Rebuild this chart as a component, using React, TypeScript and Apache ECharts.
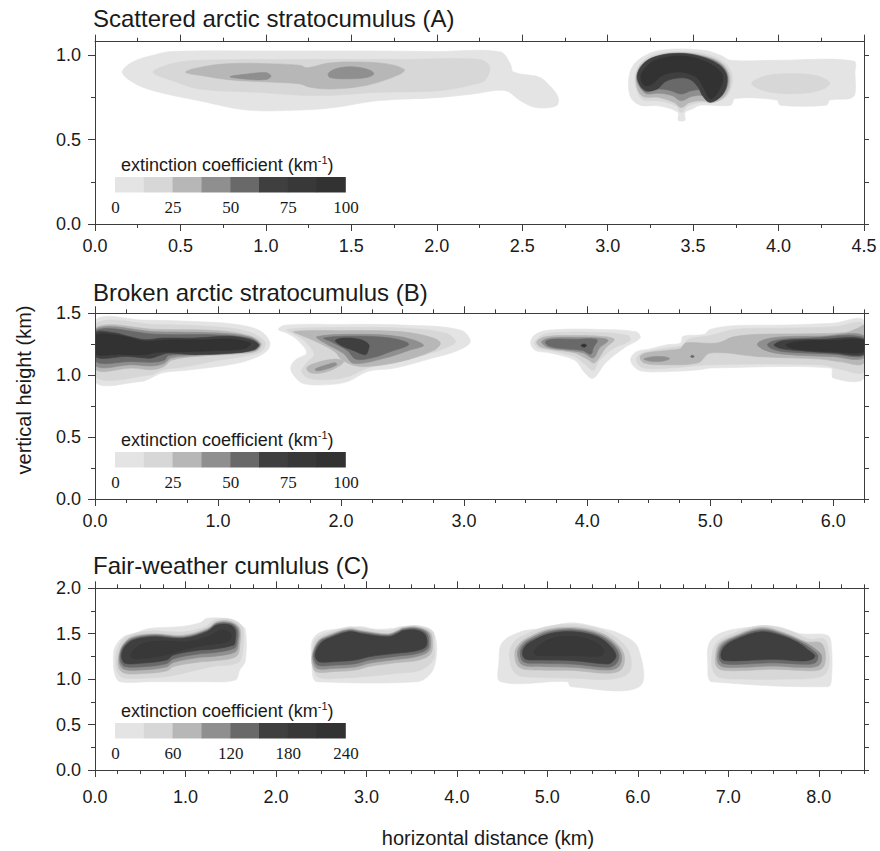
import React, { useEffect, useRef } from 'react';
import * as echarts from 'echarts';

type Pt = [number, number];
type Contour = { level: number; pts: Pt[] };

// grey shades of the 8 contour classes (lightest -> darkest)
const levelColors = ['#e4e4e4', '#d7d7d7', '#b7b7b7', '#8f8f8f', '#696969', '#3f3f3f', '#383838', '#323232'];

const legendTicksAB = [0, 25, 50, 75, 100];
const legendTicksC = [0, 60, 120, 180, 240];

const xLabelsA = [0, 0.5, 1, 1.5, 2, 2.5, 3, 3.5, 4, 4.5];
const xLabelsB = [0, 1, 2, 3, 4, 5, 6];
const xLabelsC = [0, 1, 2, 3, 4, 5, 6, 7, 8];
const yLabelsA = [0, 0.5, 1];
const yLabelsB = [0, 0.5, 1, 1.5];
const yLabelsC = [0, 0.5, 1, 1.5, 2];

const xMax = [4.5, 6.25, 8.5];
const yMax = [1.08, 1.5, 2.0];

const titles = ['Scattered arctic stratocumulus (A)', 'Broken arctic stratocumulus (B)', 'Fair-weather cumlulus (C)'];

// ---------------- Panel A : scattered arctic stratocumulus ----------------
const contoursA: Contour[] = [
  { level: 1, pts: [[0.16, 0.90], [0.22, 0.96], [0.34, 1.0], [0.45, 1.022], [1.0, 1.025], [1.6, 1.025], [2.0, 1.022], [2.37, 1.02], [2.43, 0.95], [2.45, 0.90], [2.60, 0.87], [2.66, 0.82], [2.71, 0.75], [2.70, 0.70], [2.58, 0.69], [2.49, 0.73], [2.40, 0.79], [2.21, 0.77], [2.02, 0.75], [1.65, 0.73], [1.40, 0.69], [1.20, 0.675], [0.89, 0.675], [0.61, 0.73], [0.34, 0.79], [0.22, 0.84]] },
  { level: 1, pts: [[3.131, 0.90], [3.19, 0.98], [3.31, 1.03], [3.56, 1.03], [3.66, 1.0], [3.72, 0.97], [4.0, 0.97], [4.44, 0.965], [4.447, 0.89], [4.447, 0.77], [4.42, 0.744], [4.30, 0.734], [4.28, 0.704], [4.01, 0.704], [3.99, 0.734], [3.745, 0.744], [3.72, 0.704], [3.54, 0.704], [3.50, 0.684], [3.452, 0.66], [3.452, 0.615], [3.413, 0.615], [3.413, 0.66], [3.30, 0.70], [3.19, 0.704], [3.131, 0.76]] },
  { level: 2, pts: [[0.34, 0.90], [0.45, 0.95], [0.61, 0.97], [1.2, 0.975], [1.8, 0.975], [2.25, 0.975], [2.31, 0.93], [2.28, 0.85], [2.21, 0.826], [2.02, 0.79], [1.65, 0.78], [1.40, 0.763], [1.2, 0.763], [0.95, 0.78], [0.61, 0.80], [0.45, 0.85]] },
  { level: 2, pts: [[3.16, 0.86], [3.20, 0.96], [3.30, 1.01], [3.45, 1.02], [3.58, 1.005], [3.69, 0.95], [3.73, 0.87], [3.70, 0.76], [3.62, 0.72], [3.54, 0.72], [3.47, 0.70], [3.43, 0.66], [3.40, 0.70], [3.30, 0.73], [3.20, 0.74]] },
  { level: 2, pts: [[3.843, 0.833], [3.90, 0.87], [4.0, 0.888], [4.15, 0.888], [4.25, 0.87], [4.30, 0.833], [4.25, 0.795], [4.15, 0.775], [4.0, 0.775], [3.90, 0.795]] },
  { level: 3, pts: [[0.53, 0.90], [0.65, 0.935], [0.81, 0.951], [1.0, 0.95], [1.2, 0.94], [1.24, 0.925], [1.36, 0.952], [1.49, 0.96], [1.70, 0.95], [1.81, 0.915], [1.78, 0.885], [1.59, 0.822], [1.39, 0.80], [1.26, 0.81], [1.20, 0.83], [1.0, 0.842], [0.81, 0.852], [0.65, 0.875]] },
  { level: 3, pts: [[3.165, 0.86], [3.20, 0.95], [3.30, 1.0], [3.43, 1.015], [3.57, 0.995], [3.67, 0.95], [3.715, 0.87], [3.695, 0.77], [3.62, 0.72], [3.55, 0.73], [3.48, 0.72], [3.43, 0.69], [3.39, 0.72], [3.30, 0.75], [3.20, 0.76]] },
  { level: 4, pts: [[0.79, 0.872], [0.89, 0.888], [1.0, 0.897], [1.03, 0.876], [1.0, 0.856], [0.89, 0.858]] },
  { level: 4, pts: [[1.365, 0.892], [1.414, 0.921], [1.511, 0.931], [1.609, 0.911], [1.632, 0.888], [1.59, 0.868], [1.473, 0.86], [1.375, 0.868]] },
  { level: 4, pts: [[3.17, 0.86], [3.21, 0.95], [3.30, 0.997], [3.43, 1.012], [3.56, 0.992], [3.665, 0.945], [3.705, 0.87], [3.685, 0.78], [3.61, 0.725], [3.56, 0.76], [3.49, 0.755], [3.43, 0.73], [3.38, 0.76], [3.30, 0.775], [3.22, 0.775]] },
  { level: 5, pts: [[3.173, 0.87], [3.215, 0.95], [3.30, 0.995], [3.43, 1.01], [3.555, 0.99], [3.66, 0.94], [3.70, 0.87], [3.68, 0.78], [3.60, 0.722], [3.56, 0.79], [3.49, 0.79], [3.43, 0.77], [3.37, 0.79], [3.30, 0.80], [3.22, 0.785]] },
  { level: 6, pts: [[3.175, 0.892], [3.22, 0.96], [3.30, 0.997], [3.423, 1.01], [3.55, 0.99], [3.655, 0.94], [3.698, 0.872], [3.675, 0.77], [3.599, 0.722], [3.555, 0.76], [3.53, 0.81], [3.485, 0.855], [3.423, 0.866], [3.34, 0.845], [3.29, 0.80], [3.225, 0.79], [3.185, 0.83]] },
  { level: 8, pts: [[3.195, 0.88], [3.245, 0.95], [3.33, 0.985], [3.43, 0.995], [3.54, 0.975], [3.63, 0.93], [3.675, 0.87], [3.645, 0.78], [3.60, 0.742], [3.565, 0.80], [3.525, 0.865], [3.46, 0.895], [3.40, 0.90], [3.32, 0.88], [3.26, 0.83], [3.215, 0.82]] },
];

// ---------------- Panel B : broken arctic stratocumulus ----------------
const contoursB: Contour[] = [
  // left cloud
  { level: 1, pts: [[0, 1.44], [0.4, 1.445], [0.9, 1.43], [1.15, 1.41], [1.34, 1.36], [1.42, 1.27], [1.40, 1.20], [1.30, 1.14], [1.125, 1.09], [0.746, 1.04], [0.55, 1.02], [0.44, 0.97], [0.37, 0.948], [0, 0.948]] },
  { level: 2, pts: [[0, 1.41], [0.5, 1.41], [1.0, 1.39], [1.25, 1.35], [1.38, 1.27], [1.36, 1.20], [1.25, 1.16], [1.0, 1.12], [0.75, 1.07], [0.56, 1.045], [0.44, 1.0], [0, 0.99]] },
  { level: 3, pts: [[0, 1.38], [0.5, 1.37], [1.0, 1.36], [1.25, 1.32], [1.35, 1.26], [1.32, 1.20], [1.2, 1.175], [0.8, 1.15], [0.62, 1.12], [0.56, 1.07], [0.46, 1.045], [0.30, 1.058], [0, 1.05]] },
  { level: 4, pts: [[0, 1.37], [0.5, 1.35], [1.0, 1.34], [1.25, 1.31], [1.34, 1.25], [1.30, 1.20], [1.1, 1.18], [0.8, 1.16], [0.62, 1.14], [0.56, 1.095], [0.46, 1.075], [0.30, 1.085], [0, 1.08]] },
  { level: 5, pts: [[0, 1.36], [0.5, 1.33], [1.0, 1.325], [1.25, 1.30], [1.335, 1.25], [1.29, 1.205], [1.1, 1.185], [0.8, 1.17], [0.6, 1.16], [0.56, 1.12], [0.46, 1.105], [0.30, 1.11], [0, 1.115]] },
  { level: 6, pts: [[0, 1.341], [0.163, 1.341], [0.271, 1.314], [0.407, 1.287], [0.55, 1.30], [0.814, 1.30], [1.085, 1.314], [1.25, 1.29], [1.329, 1.246], [1.29, 1.206], [1.139, 1.179], [0.814, 1.166], [0.597, 1.179], [0.542, 1.166], [0.461, 1.139], [0.407, 1.139], [0.271, 1.152], [0, 1.152]] },
  { level: 8, pts: [[0, 1.32], [0.2, 1.32], [0.4, 1.275], [0.6, 1.285], [0.9, 1.285], [1.1, 1.29], [1.26, 1.26], [1.22, 1.215], [1.0, 1.20], [0.7, 1.19], [0.5, 1.185], [0.4, 1.165], [0.2, 1.17], [0, 1.175]] },
  // middle cloud (x ~ 1.5 - 3.0)
  { level: 1, pts: [[1.49, 1.37], [1.55, 1.405], [2.0, 1.41], [2.5, 1.405], [2.97, 1.365], [3.05, 1.27], [2.95, 1.20], [2.75, 1.14], [2.44, 1.058], [2.22, 1.031], [2.06, 0.951], [1.90, 0.924], [1.70, 0.93], [1.63, 0.98], [1.59, 1.058], [1.63, 1.125], [1.72, 1.18], [1.65, 1.28], [1.56, 1.34]] },
  { level: 2, pts: [[1.56, 1.37], [2.0, 1.385], [2.5, 1.38], [2.85, 1.34], [2.93, 1.27], [2.85, 1.22], [2.7, 1.17], [2.44, 1.10], [2.22, 1.06], [2.06, 0.99], [1.90, 0.965], [1.74, 0.975], [1.68, 1.03], [1.72, 1.10], [1.78, 1.17], [1.70, 1.28], [1.62, 1.33]] },
  { level: 3, pts: [[1.614, 1.352], [2.0, 1.36], [2.5, 1.35], [2.75, 1.30], [2.807, 1.257], [2.75, 1.20], [2.48, 1.11], [2.21, 1.07], [2.10, 1.08], [2.0, 1.13], [1.95, 1.19], [1.80, 1.27], [1.68, 1.32]] },
  { level: 3, pts: [[1.72, 1.06], [1.80, 1.10], [1.95, 1.13], [2.02, 1.11], [1.96, 1.06], [1.85, 1.02], [1.75, 1.02]] },
  { level: 4, pts: [[1.79, 1.05], [1.87, 1.08], [1.95, 1.10], [1.965, 1.085], [1.88, 1.05], [1.80, 1.035]] },
  { level: 4, pts: [[1.803, 1.311], [2.1, 1.33], [2.48, 1.311], [2.671, 1.244], [2.55, 1.20], [2.346, 1.136], [2.102, 1.096], [2.02, 1.176], [1.85, 1.27]] },
  { level: 5, pts: [[1.86, 1.30], [2.1, 1.315], [2.40, 1.30], [2.55, 1.25], [2.40, 1.19], [2.25, 1.14], [2.12, 1.13], [2.05, 1.20], [1.92, 1.27]] },
  { level: 6, pts: [[1.953, 1.28], [2.02, 1.30], [2.15, 1.29], [2.224, 1.25], [2.22, 1.20], [2.197, 1.166], [2.10, 1.20], [2.0, 1.24]] },
  // triangular cloud near x = 4
  { level: 1, pts: [[3.54, 1.26], [3.58, 1.33], [3.70, 1.365], [4.1, 1.37], [4.40, 1.35], [4.43, 1.30], [4.30, 1.22], [4.15, 1.10], [4.05, 0.975], [3.98, 1.02], [3.90, 1.12], [3.70, 1.18], [3.58, 1.20]] },
  { level: 2, pts: [[3.57, 1.26], [3.63, 1.32], [3.75, 1.345], [4.1, 1.345], [4.33, 1.32], [4.35, 1.28], [4.22, 1.22], [4.10, 1.12], [4.05, 1.04], [3.98, 1.09], [3.90, 1.15], [3.70, 1.20], [3.60, 1.22]] },
  { level: 3, pts: [[3.59, 1.27], [3.66, 1.31], [3.85, 1.32], [4.10, 1.315], [4.22, 1.29], [4.15, 1.22], [4.06, 1.10], [4.0, 1.13], [3.90, 1.18], [3.70, 1.21], [3.62, 1.23]] },
  { level: 4, pts: [[3.63, 1.27], [3.70, 1.30], [3.90, 1.305], [4.10, 1.30], [4.17, 1.28], [4.10, 1.22], [4.05, 1.14], [3.97, 1.18], [3.85, 1.20], [3.68, 1.225]] },
  { level: 5, pts: [[3.66, 1.27], [3.72, 1.29], [3.90, 1.29], [4.08, 1.285], [4.05, 1.22], [4.03, 1.17], [3.96, 1.20], [3.80, 1.215], [3.69, 1.235]] },
  { level: 8, pts: [[3.95, 1.24], [3.975, 1.252], [3.995, 1.24], [3.975, 1.226]] },
  // right group (x ~ 4.35 - 6.25)
  { level: 1, pts: [[4.353, 1.13], [4.40, 1.19], [4.50, 1.21], [4.65, 1.246], [4.76, 1.26], [4.78, 1.314], [4.95, 1.33], [5.0, 1.37], [5.19, 1.40], [5.6, 1.405], [6.0, 1.42], [6.25, 1.44], [6.25, 0.977], [6.0, 0.977], [5.98, 1.058], [5.0, 1.058], [4.92, 1.045], [4.70, 1.031], [4.45, 1.031], [4.38, 1.07]] },
  { level: 2, pts: [[4.40, 1.13], [4.45, 1.18], [4.65, 1.22], [4.78, 1.24], [4.82, 1.29], [5.0, 1.32], [5.2, 1.37], [5.6, 1.38], [6.0, 1.39], [6.25, 1.41], [6.25, 1.03], [6.05, 1.05], [5.9, 1.085], [5.0, 1.085], [4.7, 1.06], [4.45, 1.06]] },
  { level: 3, pts: [[4.43, 1.15], [4.48, 1.18], [4.65, 1.20], [4.76, 1.215], [4.80, 1.26], [5.058, 1.26], [5.19, 1.31], [5.40, 1.33], [5.8, 1.335], [6.1, 1.345], [6.2, 1.38], [6.25, 1.40], [6.25, 1.10], [6.05, 1.11], [5.9, 1.13], [5.4, 1.15], [5.0, 1.18], [4.9, 1.10], [4.6, 1.085], [4.46, 1.10]] },
  { level: 4, pts: [[4.46, 1.13], [4.52, 1.148], [4.62, 1.15], [4.67, 1.135], [4.62, 1.115], [4.52, 1.112]] },
  { level: 4, pts: [[5.383, 1.25], [5.45, 1.29], [5.6, 1.31], [5.9, 1.315], [6.25, 1.32], [6.25, 1.14], [6.0, 1.15], [5.6, 1.17], [5.45, 1.20]] },
  { level: 5, pts: [[5.466, 1.25], [5.55, 1.285], [5.8, 1.30], [6.25, 1.305], [6.25, 1.16], [6.0, 1.17], [5.6, 1.19], [5.5, 1.215]] },
  { level: 5, pts: [[4.84, 1.152], [4.855, 1.162], [4.87, 1.152], [4.855, 1.142]] },
  { level: 6, pts: [[5.52, 1.245], [5.6, 1.28], [5.9, 1.29], [6.25, 1.29], [6.25, 1.17], [6.0, 1.18], [5.7, 1.20], [5.56, 1.22]] },
  { level: 8, pts: [[5.62, 1.25], [5.75, 1.275], [6.0, 1.28], [6.25, 1.28], [6.25, 1.19], [6.0, 1.19], [5.75, 1.205], [5.64, 1.225]] },
];

// ---------------- Panel C : fair-weather cumulus ----------------
const contoursC: Contour[] = [
  // cloud 1
  { level: 1, pts: [[0.203, 1.21], [0.22, 1.35], [0.314, 1.467], [0.424, 1.50], [0.609, 1.559], [0.941, 1.578], [1.163, 1.62], [1.237, 1.67], [1.495, 1.66], [1.60, 1.60], [1.661, 1.55], [1.661, 1.20], [1.60, 1.10], [1.55, 0.99], [1.2, 0.972], [0.6, 0.972], [0.277, 0.972], [0.22, 1.05]] },
  { level: 2, pts: [[0.23, 1.24], [0.27, 1.38], [0.37, 1.48], [0.62, 1.53], [0.98, 1.52], [1.22, 1.58], [1.33, 1.655], [1.52, 1.655], [1.63, 1.57], [1.63, 1.30], [1.58, 1.18], [1.30, 1.14], [1.0, 1.07], [0.8, 1.03], [0.5, 1.01], [0.30, 1.02], [0.24, 1.10]] },
  { level: 3, pts: [[0.26, 1.25], [0.30, 1.37], [0.40, 1.465], [0.646, 1.50], [0.98, 1.485], [1.24, 1.56], [1.35, 1.635], [1.50, 1.635], [1.60, 1.56], [1.60, 1.37], [1.56, 1.25], [1.30, 1.20], [1.16, 1.19], [0.87, 1.14], [0.79, 1.09], [0.50, 1.06], [0.33, 1.065], [0.265, 1.12]] },
  { level: 4, pts: [[0.27, 1.26], [0.31, 1.37], [0.41, 1.455], [0.646, 1.49], [0.98, 1.47], [1.24, 1.545], [1.35, 1.62], [1.50, 1.62], [1.585, 1.555], [1.585, 1.40], [1.55, 1.30], [1.30, 1.25], [1.16, 1.24], [0.87, 1.185], [0.79, 1.135], [0.50, 1.10], [0.33, 1.105], [0.275, 1.16]] },
  { level: 5, pts: [[0.28, 1.27], [0.32, 1.37], [0.42, 1.445], [0.646, 1.48], [0.98, 1.46], [1.24, 1.535], [1.35, 1.61], [1.50, 1.61], [1.57, 1.55], [1.57, 1.42], [1.54, 1.34], [1.30, 1.29], [1.16, 1.28], [0.87, 1.225], [0.79, 1.17], [0.50, 1.135], [0.33, 1.14], [0.285, 1.19]] },
  { level: 6, pts: [[0.295, 1.28], [0.33, 1.36], [0.424, 1.431], [0.646, 1.467], [0.978, 1.449], [1.237, 1.522], [1.347, 1.596], [1.495, 1.596], [1.55, 1.54], [1.55, 1.431], [1.532, 1.376], [1.30, 1.33], [1.163, 1.321], [0.867, 1.266], [0.793, 1.211], [0.498, 1.174], [0.332, 1.174], [0.30, 1.22]] },
  { level: 7, pts: [[0.40, 1.28], [0.50, 1.38], [0.70, 1.42], [1.0, 1.41], [1.25, 1.47], [1.40, 1.54], [1.50, 1.50], [1.48, 1.42], [1.25, 1.38], [1.0, 1.33], [0.80, 1.27], [0.55, 1.23], [0.42, 1.23]] },
  // cloud 2
  { level: 1, pts: [[2.399, 1.15], [2.40, 1.42], [2.50, 1.52], [2.787, 1.559], [2.934, 1.58], [3.10, 1.55], [3.303, 1.559], [3.377, 1.578], [3.673, 1.559], [3.765, 1.45], [3.765, 1.20], [3.70, 1.05], [3.562, 0.972], [2.454, 0.972], [2.41, 1.02]] },
  { level: 2, pts: [[2.40, 1.25], [2.43, 1.43], [2.54, 1.50], [2.80, 1.575], [2.95, 1.56], [3.24, 1.53], [3.38, 1.57], [3.55, 1.59], [3.73, 1.53], [3.75, 1.40], [3.74, 1.22], [3.6, 1.10], [3.3, 1.06], [3.0, 1.03], [2.7, 1.01], [2.47, 1.02], [2.41, 1.12]] },
  { level: 3, pts: [[2.40, 1.27], [2.46, 1.42], [2.56, 1.48], [2.80, 1.555], [2.95, 1.535], [3.24, 1.50], [3.36, 1.545], [3.40, 1.565], [3.55, 1.575], [3.70, 1.52], [3.73, 1.42], [3.71, 1.28], [3.58, 1.21], [3.32, 1.18], [3.03, 1.14], [2.88, 1.10], [2.66, 1.085], [2.45, 1.08], [2.405, 1.15]] },
  { level: 4, pts: [[2.41, 1.28], [2.47, 1.415], [2.57, 1.47], [2.80, 1.545], [2.95, 1.525], [3.24, 1.49], [3.36, 1.535], [3.40, 1.555], [3.55, 1.565], [3.68, 1.515], [3.71, 1.42], [3.69, 1.31], [3.56, 1.25], [3.32, 1.215], [3.03, 1.175], [2.88, 1.135], [2.66, 1.12], [2.46, 1.115], [2.415, 1.18]] },
  { level: 5, pts: [[2.42, 1.29], [2.48, 1.41], [2.575, 1.46], [2.80, 1.535], [2.95, 1.515], [3.24, 1.48], [3.36, 1.525], [3.40, 1.545], [3.55, 1.555], [3.66, 1.51], [3.69, 1.42], [3.67, 1.33], [3.55, 1.28], [3.32, 1.25], [3.03, 1.21], [2.88, 1.17], [2.66, 1.155], [2.47, 1.15], [2.425, 1.21]] },
  { level: 6, pts: [[2.44, 1.30], [2.50, 1.40], [2.584, 1.449], [2.806, 1.522], [2.95, 1.50], [3.249, 1.467], [3.36, 1.51], [3.396, 1.532], [3.544, 1.541], [3.64, 1.50], [3.67, 1.42], [3.65, 1.35], [3.544, 1.31], [3.322, 1.284], [3.027, 1.247], [2.879, 1.211], [2.658, 1.193], [2.48, 1.19], [2.44, 1.23]] },
  // cloud 3
  { level: 1, pts: [[4.466, 1.20], [4.50, 1.40], [4.70, 1.52], [4.95, 1.559], [5.186, 1.614], [5.35, 1.614], [5.60, 1.559], [5.80, 1.50], [6.0, 1.35], [6.017, 0.917], [5.26, 0.917], [5.22, 0.972], [4.485, 0.972]] },
  { level: 2, pts: [[4.58, 1.28], [4.64, 1.42], [4.78, 1.50], [5.0, 1.58], [5.30, 1.60], [5.60, 1.54], [5.82, 1.41], [5.92, 1.25], [5.90, 1.07], [5.70, 1.0], [5.3, 1.01], [4.9, 1.02], [4.65, 1.06]] },
  { level: 3, pts: [[4.64, 1.29], [4.70, 1.40], [4.81, 1.47], [5.01, 1.55], [5.30, 1.57], [5.59, 1.51], [5.77, 1.39], [5.85, 1.26], [5.82, 1.11], [5.67, 1.065], [5.30, 1.095], [4.93, 1.10], [4.69, 1.13]] },
  { level: 4, pts: [[4.67, 1.29], [4.72, 1.39], [4.82, 1.455], [5.02, 1.535], [5.30, 1.555], [5.58, 1.495], [5.75, 1.38], [5.82, 1.26], [5.79, 1.14], [5.67, 1.10], [5.30, 1.13], [4.93, 1.14], [4.72, 1.16]] },
  { level: 5, pts: [[4.70, 1.29], [4.74, 1.38], [4.84, 1.445], [5.03, 1.52], [5.30, 1.54], [5.57, 1.48], [5.73, 1.37], [5.79, 1.26], [5.76, 1.17], [5.67, 1.13], [5.30, 1.165], [4.93, 1.175], [4.74, 1.19]] },
  { level: 6, pts: [[4.725, 1.284], [4.76, 1.37], [4.854, 1.431], [5.039, 1.504], [5.297, 1.522], [5.556, 1.467], [5.704, 1.358], [5.759, 1.26], [5.73, 1.20], [5.667, 1.167], [5.297, 1.203], [4.928, 1.211], [4.76, 1.22]] },
  { level: 7, pts: [[4.85, 1.30], [4.95, 1.40], [5.1, 1.46], [5.3, 1.47], [5.5, 1.42], [5.62, 1.33], [5.60, 1.26], [5.3, 1.26], [5.0, 1.26], [4.88, 1.265]] },
  // cloud 4
  { level: 1, pts: [[6.774, 1.10], [6.79, 1.40], [6.95, 1.52], [7.30, 1.578], [7.55, 1.578], [7.80, 1.50], [8.10, 1.48], [8.14, 1.35], [8.14, 1.0], [8.10, 0.917], [6.811, 0.972], [6.78, 1.02]] },
  { level: 2, pts: [[6.82, 1.26], [6.87, 1.40], [7.02, 1.49], [7.365, 1.59], [7.68, 1.53], [7.90, 1.44], [8.06, 1.44], [8.11, 1.30], [8.10, 1.10], [8.0, 1.02], [7.6, 1.0], [7.2, 1.0], [6.9, 1.02], [6.83, 1.10]] },
  { level: 3, pts: [[6.86, 1.27], [6.90, 1.39], [7.04, 1.465], [7.365, 1.57], [7.65, 1.50], [7.87, 1.41], [8.02, 1.40], [8.07, 1.30], [8.06, 1.15], [8.0, 1.10], [7.81, 1.095], [7.51, 1.11], [7.14, 1.095], [6.93, 1.10], [6.865, 1.15]] },
  { level: 4, pts: [[6.88, 1.28], [6.92, 1.38], [7.05, 1.455], [7.365, 1.555], [7.64, 1.49], [7.85, 1.40], [7.95, 1.34], [8.03, 1.26], [8.0, 1.15], [7.81, 1.13], [7.51, 1.145], [7.14, 1.13], [6.94, 1.135], [6.885, 1.18]] },
  { level: 5, pts: [[6.90, 1.28], [6.94, 1.37], [7.06, 1.445], [7.365, 1.54], [7.63, 1.48], [7.83, 1.39], [7.92, 1.33], [7.99, 1.26], [7.96, 1.18], [7.81, 1.165], [7.51, 1.18], [7.14, 1.165], [6.95, 1.17], [6.905, 1.21]] },
  { level: 6, pts: [[6.921, 1.284], [6.96, 1.36], [7.069, 1.431], [7.365, 1.522], [7.623, 1.467], [7.808, 1.38], [7.882, 1.321], [7.955, 1.26], [7.93, 1.22], [7.808, 1.20], [7.512, 1.218], [7.143, 1.203], [6.958, 1.205], [6.925, 1.23]] },
];

const FONT = '"Liberation Sans", Arial, Helvetica, sans-serif';
const SERIF = '"Liberation Serif", "Times New Roman", serif';
const INK = '#1a1a1a';
const AXIS = '#3c3c3c';

const gridBoxes = [
  { top: 41.7, height: 182.3, labelMargin: 13 },
  { top: 313.3, height: 185.7, labelMargin: 13 },
  { top: 588.3, height: 181.7, labelMargin: 18 },
];
const xLabels = [xLabelsA, xLabelsB, xLabelsC];
const yLabels = [yLabelsA, yLabelsB, yLabelsC];
const legendTicks = [legendTicksAB, legendTicksAB, legendTicksC];
const contourSets = [contoursA, contoursB, contoursC];

function quarterTicks(max: number): number[] {
  const t: number[] = [];
  for (let k = 0; k * 0.25 <= max + 1e-9; k++) t.push(k * 0.25);
  return t;
}

function buildOption() {
  const xAxis: any[] = [];
  const yAxis: any[] = [];
  const series: any[] = [];
  const grid: any[] = [];
  const graphic: any[] = [];

  gridBoxes.forEach((g, gi) => {
    grid.push({ left: 95, width: 769, top: g.top, height: g.height, containLabel: false });
    const lineStyle = { color: AXIS, width: 1 };
    const baseX = { type: 'value', gridIndex: gi, min: 0, max: xMax[gi], splitLine: { show: false }, z: 5 };
    const baseY = { type: 'value', gridIndex: gi, min: 0, max: yMax[gi], splitLine: { show: false }, z: 5 };
    const xq = quarterTicks(xMax[gi]);
    const yq = quarterTicks(yMax[gi]);
    xAxis.push({
      ...baseX, position: 'bottom',
      axisLine: { show: true, onZero: false, lineStyle },
      axisTick: { show: true, customValues: xq, length: 4, lineStyle },
      axisLabel: { show: true, customValues: xLabels[gi], formatter: (v: number) => v.toFixed(1), margin: g.labelMargin, fontSize: 18, fontFamily: FONT, color: INK },
    });
    xAxis.push({
      ...baseX, position: 'bottom',
      axisLine: { show: false, onZero: false },
      axisTick: { show: true, customValues: xLabels[gi], length: 7, lineStyle },
      axisLabel: { show: false },
    });
    xAxis.push({
      ...baseX, position: 'top',
      axisLine: { show: true, onZero: false, lineStyle },
      axisTick: { show: true, customValues: xq, length: 4, lineStyle },
      axisLabel: { show: false },
    });
    xAxis.push({
      ...baseX, position: 'top',
      axisLine: { show: false, onZero: false },
      axisTick: { show: true, customValues: xLabels[gi], length: 7, lineStyle },
      axisLabel: { show: false },
    });
    yAxis.push({
      ...baseY, position: 'left',
      axisLine: { show: true, onZero: false, lineStyle },
      axisTick: { show: true, customValues: yq, length: 4, lineStyle },
      axisLabel: { show: true, customValues: yLabels[gi], formatter: (v: number) => v.toFixed(1), margin: 14, fontSize: 18, fontFamily: FONT, color: INK },
    });
    yAxis.push({
      ...baseY, position: 'left',
      axisLine: { show: false, onZero: false },
      axisTick: { show: true, customValues: yLabels[gi], length: 7, lineStyle },
      axisLabel: { show: false },
    });
    yAxis.push({
      ...baseY, position: 'right',
      axisLine: { show: true, onZero: false, lineStyle },
      axisTick: { show: true, customValues: yq, length: 5, lineStyle },
      axisLabel: { show: false },
    });

    const contours = contourSets[gi].slice().sort((a, b) => a.level - b.level);
    series.push({
      type: 'custom',
      xAxisIndex: gi * 4,
      yAxisIndex: gi * 3,
      silent: true,
      clip: true,
      z: 2,
      data: contours.map((c) => c.pts[0]),
      renderItem: (params: any, api: any) => {
        const c = contours[params.dataIndex];
        const col = levelColors[c.level - 1];
        return {
          type: 'polygon',
          shape: { points: c.pts.map((p) => api.coord(p)), smooth: 0.35 },
          style: { fill: col, stroke: col, lineWidth: 0.6 },
        };
      },
    });

    const gb = g.top + g.height;
    graphic.push({
      type: 'text', x: 121, y: gb - 59, z: 10,
      style: {
        text: '{a|extinction coefficient (km}{s|-1}{a|)}',
        verticalAlign: 'middle', textVerticalAlign: 'middle',
        rich: {
          a: { fontSize: 18, fontFamily: FONT, fill: INK, lineHeight: 22 },
          s: { fontSize: 11, fontFamily: FONT, fill: INK, verticalAlign: 'top', lineHeight: 22 },
        },
      },
    });
    levelColors.forEach((c, i) => {
      graphic.push({ type: 'rect', z: 10, shape: { x: 115 + i * 28.8, y: gb - 47, width: 29.2, height: 15.5 }, style: { fill: c } });
    });
    legendTicks[gi].forEach((v, j) => {
      graphic.push({
        type: 'text', z: 10, x: 115.5 + j * 57.6, y: gb - 16.5,
        style: { text: String(v), align: 'center', textAlign: 'center', verticalAlign: 'middle', textVerticalAlign: 'middle', fontSize: 17, fontFamily: SERIF, fill: INK },
      });
    });
  });

  graphic.push({
    type: 'text', x: 24, y: 390, rotation: Math.PI / 2, z: 10,
    style: { text: 'vertical height (km)', align: 'center', textAlign: 'center', verticalAlign: 'middle', textVerticalAlign: 'middle', fontSize: 20, fontFamily: FONT, fill: INK },
  });
  graphic.push({
    type: 'text', x: 488, y: 838, z: 10,
    style: { text: 'horizontal distance (km)', align: 'center', textAlign: 'center', verticalAlign: 'middle', textVerticalAlign: 'middle', fontSize: 20, fontFamily: FONT, fill: INK },
  });

  const titleTops = [6, 280, 553];
  const title = titles.map((t, i) => ({
    text: t, left: 93, top: titleTops[i], padding: 0,
    textStyle: { fontSize: 24, fontWeight: 'normal', fontFamily: FONT, color: INK },
  }));

  return {
    animation: false,
    backgroundColor: '#ffffff',
    title,
    grid,
    xAxis,
    yAxis,
    series,
    graphic,
  };
}

export default function App() {
  const ref = useRef<HTMLDivElement>(null);
  useEffect(() => {
    if (!ref.current) return;
    const chart = echarts.init(ref.current, undefined, { renderer: 'svg' });
    chart.setOption(buildOption() as any);
    return () => chart.dispose();
  }, []);
  return <div ref={ref} style={{ position: 'fixed', left: 0, top: 0, width: 880, height: 851 }} />;
}
